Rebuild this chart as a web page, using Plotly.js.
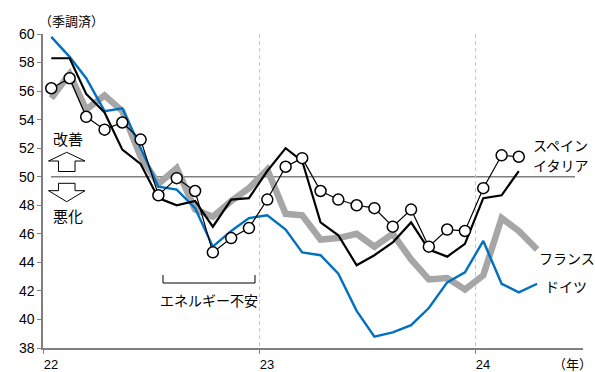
<!DOCTYPE html>
<html>
<head>
<meta charset="utf-8">
<script src="https://cdn.plot.ly/plotly-3.0.1.min.js"></script>
<style>
  html, body { margin: 0; padding: 0; background: #fff; }
  #chart { width: 595px; height: 372px; }
</style>
</head>
<body>
<div id="chart"></div>
<script>
// Manufacturing PMI (seasonally adjusted), monthly, from Jan 2022
const startYear = 2022;
const germany = [59.8, 58.4, 56.9, 54.6, 54.8, 52.0, 49.3, 49.1, 47.8, 45.1, 46.2, 47.1,
                 47.3, 46.3, 44.7, 44.5, 43.2, 40.6, 38.8, 39.1, 39.6, 40.8, 42.6, 43.3,
                 45.5, 42.5, 41.9, 42.5];
const france  = [55.5, 57.2, 54.7, 55.7, 54.6, 51.4, 49.5, 50.6, 47.7, 47.2, 48.3, 49.2,
                 50.5, 47.4, 47.3, 45.6, 45.7, 46.0, 45.1, 46.0, 44.2, 42.8, 42.9, 42.1,
                 43.1, 47.1, 46.2, 44.9];
const italy   = [58.3, 58.3, 55.8, 54.5, 51.9, 50.9, 48.5, 48.0, 48.3, 46.5, 48.4, 48.5,
                 50.4, 52.0, 51.1, 46.8, 45.9, 43.8, 44.5, 45.4, 46.8, 44.9, 44.4, 45.3,
                 48.5, 48.7, 50.4];
const spain   = [56.2, 56.9, 54.2, 53.3, 53.8, 52.6, 48.7, 49.9, 49.0, 44.7, 45.7, 46.4,
                 48.4, 50.7, 51.3, 49.0, 48.4, 48.0, 47.8, 46.5, 47.7, 45.1, 46.3, 46.2,
                 49.2, 51.5, 51.4];
const seriesNames = ['ドイツ', 'フランス', 'イタリア', 'スペイン'];
const yearTicks = ['2022-01-01', '2023-01-01', '2024-01-01'];
const yearLabels = ['22', '23', '24'];

// each monthly value is placed at the middle of its month
function monthDates(n) {
  const out = [];
  for (let i = 0; i < n; i++) {
    const y = startYear + Math.floor(i / 12);
    const m = (i % 12) + 1;
    out.push(y + '-' + String(m).padStart(2, '0') + '-15');
  }
  return out;
}

const FONT = 'Liberation Sans, Arial, Noto Sans CJK JP, sans-serif';
const JP = 'Noto Sans CJK JP, sans-serif';

// plot box in pixels, used to place decorations
const L = 43, T = 34, W = 540, H = 314;
const px = x => (x - L) / W;
const py = y => (T + H - y) / H;
function path(pts) {
  return 'M' + pts.map(p => px(p[0]).toFixed(4) + ',' + py(p[1]).toFixed(4)).join('L') + 'Z';
}

const traces = [
  { x: monthDates(france.length), y: france, name: seriesNames[1], mode: 'lines',
    line: { color: '#a6a6a6', width: 6.5, shape: 'linear' }, hoverinfo: 'skip' },
  { x: monthDates(germany.length), y: germany, name: seriesNames[0], mode: 'lines',
    line: { color: '#0070c0', width: 2.4 } },
  { x: monthDates(italy.length), y: italy, name: seriesNames[2], mode: 'lines',
    line: { color: '#000000', width: 2.2 } },
  { x: monthDates(spain.length), y: spain, name: seriesNames[3], mode: 'lines+markers',
    line: { color: '#000000', width: 1.2 },
    marker: { symbol: 'circle', size: 11, color: '#ffffff', line: { color: '#000000', width: 1.5 } } }
];

const shapes = [
  // 50 threshold line
  { type: 'line', xref: 'paper', yref: 'y', x0: px(51), x1: px(575), y0: 50, y1: 50,
    line: { color: '#7f7f7f', width: 1.6 }, layer: 'below' },
  // up / down outline arrows
  { type: 'path', xref: 'paper', yref: 'paper',
    path: path([[66.7,152.3],[85,161],[75,161],[75,171.5],[58.5,171.5],[58.5,161],[48.5,161]]),
    line: { color: '#000', width: 1 }, fillcolor: '#fff' },
  { type: 'path', xref: 'paper', yref: 'paper',
    path: path([[58.5,183.3],[75,183.3],[75,190.7],[85,190.7],[66.7,201.7],[48.5,190.7],[58.5,190.7]]),
    line: { color: '#000', width: 1 }, fillcolor: '#fff' },
  // bracket marking the energy-worry period
  { type: 'path', xref: 'paper', yref: 'paper',
    path: 'M' + px(163) + ',' + py(275) + 'L' + px(163) + ',' + py(283) +
          'L' + px(255) + ',' + py(283) + 'L' + px(255) + ',' + py(275),
    line: { color: '#000', width: 1 } }
];

const ann = (text, x, y, size, xanchor) => ({
  text, xref: 'paper', yref: 'paper', x: px(x), y: py(y), showarrow: false,
  xanchor: xanchor || 'center', yanchor: 'middle',
  font: { family: JP, size: size || 14, color: '#000' }
});

const annotations = [
  ann('（季調済）', 71, 20, 13),
  ann('（年）', 594, 363, 13, 'right'),
  ann('改善', 68, 138.5, 15),
  ann('悪化', 68, 215.5, 15),
  ann('エネルギー不安', 209, 300, 14),
  ann(seriesNames[3], 531, 145, 14, 'left'),
  ann(seriesNames[2], 531, 165, 14, 'left'),
  ann(seriesNames[1], 537, 258, 14, 'left'),
  ann(seriesNames[0], 543, 286, 14, 'left')
];

const layout = {
  width: 595, height: 372,
  margin: { l: L, r: 595 - L - W, t: T, b: 372 - T - H, pad: 0 },
  paper_bgcolor: '#fff', plot_bgcolor: '#fff',
  showlegend: false,
  font: { family: FONT, size: 14, color: '#000' },
  xaxis: {
    type: 'date', range: ['2022-01-01', '2024-07-01 12:00'],
    tickmode: 'array', tickvals: yearTicks, ticktext: yearLabels,
    ticks: 'outside', ticklen: 4, tickcolor: '#7f7f7f', tickwidth: 1,
    ticklabelshift: 8, ticklabelstandoff: 0,
    showline: true, linecolor: '#7f7f7f', linewidth: 1.6,
    showgrid: true, gridcolor: '#c8c8c8', gridwidth: 1, griddash: '4px,3px',
    zeroline: false, tickfont: { family: FONT, size: 13, color: '#000' }
  },
  yaxis: {
    range: [38, 60], dtick: 2, tick0: 38,
    ticks: 'outside', ticklen: 4, tickcolor: '#7f7f7f', tickwidth: 1,
    showline: true, linecolor: '#7f7f7f', linewidth: 1.6,
    showgrid: false, zeroline: false,
    tickfont: { family: FONT, size: 14, color: '#000' }
  },
  shapes, annotations
};

Plotly.newPlot('chart', traces, layout, { staticPlot: true, displayModeBar: false });
</script>
</body>
</html>
